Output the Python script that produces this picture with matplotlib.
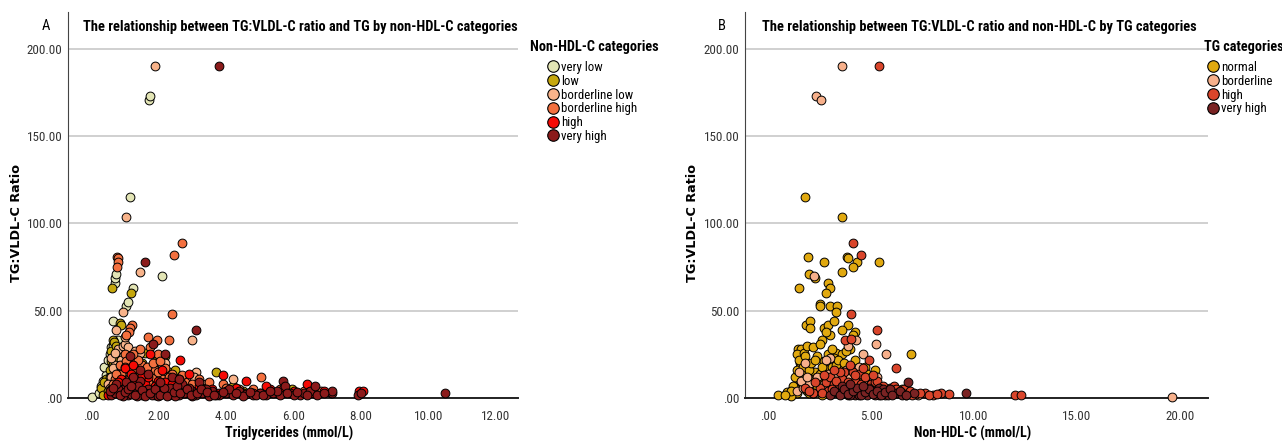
import matplotlib
matplotlib.use("Agg")
import matplotlib.pyplot as plt
import matplotlib.font_manager as fm
from matplotlib.ticker import FuncFormatter, FixedLocator
from matplotlib.lines import Line2D

# ---- panel A: TG vs ratio, coloured by non-HDL-C category ----
a_labels = ["very low", "low", "borderline low", "borderline high", "high", "very high"]
a_colors = ["#e3e5b5", "#c6a80e", "#f8b38a", "#f3703f", "#f50a05", "#8b1b1b"]

a_very_low_x = [0.02, 0.25, 0.4, 0.45, 0.5, 0.55, 0.6, 0.65, 0.7, 0.72, 0.75, 0.8, 0.9, 1.05, 1.1,
                1.15, 1.25, 1.73, 1.75, 2.1, 3.4, 0.35, 0.7, 0.85, 1.0, 1.3, 1.6, 2.0, 2.5, 0.3,
                0.4, 0.5, 0.55, 0.65, 0.8, 0.95, 1.2, 0.45, 0.6, 1.4]
a_very_low_y = [0.5, 3, 5, 13, 9, 20, 29, 44, 66, 69, 71, 24, 28, 53, 55,
                115, 63, 171, 173, 70, 8, 10, 15, 12, 20, 9, 6, 5, 4, 7,
                18, 22, 25, 30, 33, 16, 14, 7, 14, 7]

a_low_x = [0.3, 0.35, 0.45, 0.55, 0.6, 0.62, 0.65, 0.68, 0.7, 0.85, 0.88, 1.2, 1.25, 1.4, 1.6, 1.95,
           2.15, 2.6, 3.7, 5.95, 4.2, 2.2, 0.9, 1.1, 1.5, 0.5, 0.8, 3.0, 2.3, 1.8, 4.5, 6.6,
           0.4, 0.55, 0.65, 0.7, 0.75, 0.95, 1.05, 1.3, 1.45, 1.7, 2.0, 2.5, 2.8, 3.3, 0.6, 0.75]
a_low_y = [6, 2, 11, 16, 21, 63, 33, 32, 26, 43, 42, 60, 18, 14, 26, 22,
           20, 12, 15, 5, 7, 24, 9, 13, 20, 4, 7, 10, 15, 17, 4, 4,
           9, 12, 19, 23, 13, 17, 10, 21, 8, 11, 13, 16, 6, 4, 27, 30]

a_bl_low_x = [1.9, 1.05, 1.45, 0.95, 0.75, 3.0, 0.8, 0.9, 0.95, 1.0, 1.1, 1.3, 1.4, 0.7, 0.6, 0.5, 0.65,
              1.2, 1.5, 1.8, 2.0, 2.5, 2.9, 3.1, 3.5, 4.2, 4.0, 1.6, 2.2, 0.85, 1.15, 0.55, 2.7, 3.3,
              0.6, 0.7, 0.8, 0.9, 1.0, 1.25, 1.35, 1.55, 1.7, 1.9, 2.1, 2.4, 2.6, 3.05, 1.0, 0.85,
              1.45, 2.2]
a_bl_low_y = [190, 104, 72, 49, 39, 33, 28, 22, 30, 31, 29, 27, 21, 19, 12, 8, 17,
              17, 12, 14, 10, 9, 10, 15, 6, 11, 5, 9, 7, 15, 24, 6, 11, 8,
              23, 26, 13, 18, 12, 22, 16, 18, 8, 20, 15, 12, 7, 12, 35, 9,
              26, 20]

a_bl_high_x = [2.7, 2.45, 0.78, 0.8, 0.8, 0.77, 2.4, 1.22, 1.17, 1.12, 1.05, 1.7, 1.95, 2.3, 2.0, 1.75,
               1.0, 1.3, 1.5, 1.1, 0.9, 0.7, 1.6, 1.8, 2.1, 2.4, 2.6, 2.8, 3.0, 3.4, 3.9, 5.05, 5.6,
               6.3, 6.8, 0.6, 1.2, 1.4, 2.2, 2.55, 4.8, 1.9, 0.85, 1.05, 1.35,
               0.65, 0.75, 0.95, 1.0, 1.15, 1.25, 1.4, 1.55, 1.65, 1.7, 1.85, 2.0, 2.15, 2.3, 2.5,
               2.7, 2.9, 3.2, 3.5, 4.0, 4.4, 1.45, 1.25, 2.05]
a_bl_high_y = [89, 82, 81, 80, 78, 75, 48, 42, 40, 38, 36, 35, 33, 33, 25, 29,
               25, 20, 19, 17, 14, 11, 15, 12, 11, 14, 10, 9, 8, 6, 8, 12, 5,
               4, 4, 5, 8, 10, 17, 6, 5, 16, 19, 21, 13,
               8, 14, 9, 18, 12, 16, 22, 14, 18, 9, 20, 15, 8, 12, 9,
               13, 5, 11, 9, 6, 5, 28, 25, 21]

a_high_x = [2.65, 2.9, 3.9, 4.6, 6.4, 6.9, 7.95, 8.05, 1.6, 2.0, 2.3, 2.7, 3.2, 3.6, 4.3, 5.3, 5.2,
            5.7, 1.0, 1.2, 0.5, 0.9, 1.4, 1.8, 2.1, 2.5, 3.0, 3.8, 4.8, 6.0, 1.7, 2.2, 0.7, 1.75,
            0.8, 1.1, 1.3, 1.5, 1.6, 1.9, 2.4, 2.6, 2.8, 3.4, 4.0, 4.5, 5.0, 5.5, 1.25, 2.1, 6.6, 7.1]
a_high_y = [22, 14, 13, 10, 8, 4, 4, 4, 8, 10, 6, 5, 7, 5, 6, 5, 7,
            5, 17, 14, 2, 11, 5, 4, 3, 3, 2, 3, 3, 4, 12, 9, 6, 25,
            9, 6, 10, 13, 4, 7, 8, 11, 4, 4, 4, 3, 3, 3, 19, 16, 3, 3]

a_vhigh_x = [3.8, 1.6, 3.1, 1.85, 2.2, 1.15, 1.45, 1.25, 0.9, 1.0, 1.1, 1.3, 1.5, 1.7, 1.9, 2.0, 2.1,
             2.3, 2.4, 2.5, 2.6, 2.7, 2.8, 3.0, 3.1, 3.2, 3.3, 3.5, 3.6, 3.8, 4.0, 4.2, 4.4, 4.6,
             4.8, 5.0, 5.2, 5.4, 5.6, 5.7, 5.75, 5.9, 6.2, 6.3, 6.5, 6.65, 6.7, 7.15, 7.15, 7.9,
             8.0, 10.5, 0.6, 0.7, 0.8, 1.2, 1.4, 1.6, 1.8, 2.2, 2.9, 3.4, 4.1, 0.75, 1.05, 2.0,
             2.5, 3.0, 3.5, 4.5, 1.35, 0.95, 2.35, 2.75, 3.7, 4.9, 5.5, 6.0,
             0.55, 0.65, 0.85, 1.0, 1.1, 1.2, 1.3, 1.5, 1.6, 1.75, 1.9, 2.05, 2.15, 2.25, 2.45,
             2.55, 2.65, 2.85, 2.95, 3.15, 3.25, 3.45, 3.65, 3.9, 4.3, 4.7, 5.1, 5.3, 5.8, 6.1,
             6.4, 6.9, 1.7, 2.05, 2.6, 1.45]
a_vhigh_y = [190, 78, 39, 31, 25, 24, 10, 12, 3, 6, 1.5, 4, 2, 5, 1.5, 7, 3,
             2, 12, 5, 2, 8, 3, 4, 2, 9, 3, 2, 4, 2, 3, 2, 4, 2.5,
             2, 3, 2, 3, 2, 10, 7, 3, 2, 3, 4, 7, 2, 3, 4, 2,
             3, 3, 1.5, 3, 5, 2.5, 7, 3, 2, 4, 6, 5, 5, 8, 9, 1,
             1, 1, 1, 1, 1, 1, 6, 3, 1.5, 1.5, 4, 1.5,
             4, 6, 2, 3.5, 5, 7, 1.5, 4.5, 1, 3, 5, 2, 5.5, 1, 3.5,
             7, 3, 5, 2, 3, 5, 3.5, 2, 3.5, 3, 3.5, 2, 4, 3, 3.5,
             2, 3, 14, 9, 11, 16]

# ---- panel B: non-HDL-C vs ratio, coloured by TG category ----
b_labels = ["normal", "borderline", "high", "very high"]
b_colors = ["#e1a90f", "#f7b08b", "#d9452b", "#7a2323"]

b_normal_x = [1.8, 3.6, 1.95, 3.85, 3.9, 2.7, 5.4, 4.3, 4.1, 3.6, 2.0, 2.3, 1.5, 2.9, 3.0, 2.8,
              2.5, 2.5, 3.0, 3.35, 3.3, 1.85, 2.05, 2.05, 2.7, 2.9, 3.2, 3.9, 3.0, 2.8, 4.2, 3.6,
              6.95, 1.45, 1.6, 1.4, 1.75, 1.9, 2.2, 2.6, 2.5, 3.3, 3.6, 4.0, 2.4, 2.7, 3.2, 1.55,
              1.6, 1.8, 2.0, 2.3, 2.7, 3.1, 3.5, 5.2, 4.7, 0.5, 1.0, 0.9, 1.3, 1.5, 1.2, 1.7,
              2.1, 2.6, 3.4, 4.5, 5.0, 1.4, 1.9, 2.2, 2.9, 3.8, 4.4, 1.1, 6.5, 2.4, 3.0,
              1.2, 1.3, 1.4, 1.5, 1.6, 1.7, 1.8, 1.9, 2.0, 2.1, 2.2, 2.3, 2.4, 2.5, 2.6, 2.8,
              2.9, 3.0, 3.1, 3.2, 3.3, 3.4, 3.5, 3.7, 3.8, 4.0, 4.1, 4.2, 4.3, 4.5, 4.8, 5.1,
              5.3, 5.6, 6.2, 1.1, 0.8, 2.0, 2.6]
b_normal_y = [115, 104, 81, 81, 80, 78, 78, 78, 75, 72, 71, 69, 63, 66, 63, 60,
              54, 53, 53, 53, 49, 42, 44, 40, 40, 42, 44, 42, 36, 38, 38, 39,
              25, 28, 28, 25, 26, 30, 29, 33, 31, 26, 25, 28, 24, 21, 23, 20,
              19, 14, 12, 15, 17, 18, 19, 16, 18, 1.5, 2.5, 3.5, 4, 8, 6, 10,
              7, 9, 11, 6, 5, 3, 4, 3, 5, 8, 10, 1, 5, 12, 14,
              7, 12, 16, 22, 9, 18, 24, 7, 16, 20, 10, 22, 6, 14, 18, 12,
              25, 8, 28, 13, 19, 22, 10, 20, 27, 13, 36, 22, 16, 12, 14, 8,
              5, 4, 3, 4, 2, 3, 2]

b_border_x = [3.6, 2.35, 2.55, 2.25, 4.25, 5.25, 5.75, 3.0, 4.6, 3.9, 1.8, 1.5, 5.3, 19.6,
              1.4, 2.0, 2.6, 3.2, 4.0, 4.8, 5.6, 2.9, 3.5, 6.0, 4.4, 1.7,
              1.6, 1.9, 2.2, 2.4, 2.7, 3.0, 3.3, 3.4, 3.7, 3.8, 4.2, 4.5, 4.7, 5.0, 5.2, 5.9,
              6.3, 6.7, 7.3, 2.8]
b_border_y = [190, 173, 171, 70, 33, 31, 25, 23, 25, 30, 20, 15, 12, 0.5,
              4, 8, 6, 10, 12, 7, 5, 14, 9, 3, 18, 6,
              10, 12, 3, 12, 8, 5, 13, 4, 7, 16, 9, 4, 11, 8, 4, 6,
              3, 2, 2, 22]

b_high_x = [5.4, 4.1, 4.5, 4.05, 5.3, 3.75, 4.05, 4.9, 6.2, 3.7, 4.1, 4.4, 4.0, 12.0, 12.3,
            2.5, 2.8, 3.0, 3.2, 3.4, 3.6, 3.8, 4.2, 4.6, 4.8, 5.0, 5.5, 5.8, 6.0, 6.4, 6.8,
            7.2, 7.6, 8.0, 8.4, 8.8, 2.2, 3.5, 4.3, 5.2, 6.1, 7.0, 2.9, 3.9, 1.8, 5.7, 6.6,
            2.0, 2.3, 2.6, 2.7, 3.1, 3.3, 3.5, 3.7, 3.9, 4.0, 4.2, 4.4, 4.5, 4.7, 4.9, 5.1,
            5.3, 5.4, 5.6, 5.9, 6.2, 6.5, 6.9, 7.4, 7.8, 8.2, 3.2, 4.6, 5.1]
b_high_y = [190, 89, 82, 48, 39, 33, 34, 22, 17, 15, 15, 14, 19, 1.5, 1.5,
            6, 9, 12, 8, 5, 11, 7, 10, 6, 4, 8, 5, 3, 6, 4, 3,
            2.5, 3, 2, 3, 2.5, 3, 3, 4, 9, 7, 2, 4, 2, 6, 2, 5,
            4, 9, 3, 13, 5, 10, 15, 3, 9, 6, 13, 3, 8, 12, 6, 4,
            10, 2, 7, 4, 5, 3, 4, 3, 2, 2.5, 16, 17, 13]

b_vhigh_x = [9.6, 3.4, 3.8, 4.2, 4.6, 5.0, 5.4, 5.8, 6.2, 6.8, 3.0, 4.0, 4.8, 5.6, 3.6, 4.4,
             7.1, 6.5, 5.2,
             3.2, 3.5, 3.7, 3.9, 4.1, 4.3, 4.5, 4.7, 4.9, 5.1, 5.3, 5.5, 5.7, 5.9, 6.0, 6.4,
             6.7, 4.0, 4.6]
b_vhigh_y = [3, 3, 5, 2, 4, 3, 6, 2, 3, 9, 1.5, 1.5, 2, 5, 7, 2,
             3, 2, 1.5,
             4, 2, 5, 2.5, 4, 6, 1.5, 3.5, 5, 2.5, 4, 1.5, 3.5, 5, 1.5, 4,
             2, 8, 7]

a_series = [(a_very_low_x, a_very_low_y), (a_low_x, a_low_y), (a_bl_low_x, a_bl_low_y),
            (a_bl_high_x, a_bl_high_y), (a_high_x, a_high_y), (a_vhigh_x, a_vhigh_y)]
b_series = [(b_normal_x, b_normal_y), (b_border_x, b_border_y), (b_high_x, b_high_y),
            (b_vhigh_x, b_vhigh_y)]

# narrowest face available, sizes get fitted to the reference widths below
installed = {f.name for f in fm.fontManager.ttflist}
NARROW = dict(family="Roboto")
for name in ["Liberation Sans Narrow", "Roboto Condensed", "Open Sans Condensed", "DejaVu Sans Condensed"]:
    if name in installed:
        NARROW = dict(family=name)
        break
else:
    cond_file = fm.findfont(fm.FontProperties(family="DejaVu Sans", stretch="condensed"))
    if "Condensed" in cond_file:
        NARROW = dict(family="DejaVu Sans", stretch="condensed")
plt.rcParams["font.family"] = NARROW["family"]
if "stretch" in NARROW:
    plt.rcParams["font.stretch"] = NARROW["stretch"]

W, H = 1282.0, 441.0
fig = plt.figure(figsize=(W / 100, H / 100), dpi=100)
renderer = fig.canvas.get_renderer()


def fit_size(txt, target_px, weight="normal", family=None, base=10.0):
    kw = dict(NARROW) if family is None else dict(family=family)
    t = fig.text(0, 0, txt, fontsize=base, fontweight=weight, **kw)
    w = t.get_window_extent(renderer).width
    t.remove()
    return base * target_px / w


def dotfmt(v, pos):
    s = f"{v:.2f}"
    return s[1:] if s.startswith("0.") else s


TICK_FS = fit_size("200.00", 35)
TITLE_FS = fit_size("The relationship between TG:VLDL-C ratio and TG by non-HDL-C categories", 436, "bold")
XLAB_FS = fit_size("Triglycerides (mmol/L)", 128, "bold")
LEGT_FS = fit_size("Non-HDL-C categories", 128, "bold")
LEG_FS = fit_size("borderline high", 76)
YLAB_FS = fit_size("TG:VLDL-C Ratio", 118, "bold", family="DejaVu Sans")


def panel(left, right, xlim, xticks, series, labels, colors, letter, letter_x,
          title, title_x, xlabel, ylabel_x, leg_x, leg_marker_x, leg_title):
    ax = fig.add_axes([left / W, 1 - 398 / H, (right - left) / W, (398 - 12) / H])
    for (xs, ys), lab, c in zip(series, labels, colors):
        ax.scatter(xs, ys, s=40, c=c, edgecolors="black", linewidths=0.7,
                   label=lab, clip_on=False, zorder=3)
    ax.set_xlim(*xlim)
    ax.set_ylim(0, 221.2)
    ax.xaxis.set_major_locator(FixedLocator(xticks))
    ax.yaxis.set_major_locator(FixedLocator([0, 50, 100, 150, 200]))
    ax.xaxis.set_major_formatter(FuncFormatter(dotfmt))
    ax.yaxis.set_major_formatter(FuncFormatter(dotfmt))
    ax.tick_params(length=0, labelsize=TICK_FS, colors="#333333", pad=4)
    ax.tick_params(axis="x", pad=9)
    ax.grid(axis="y", color="#c8c8c8", linewidth=1.2)
    ax.set_axisbelow(True)
    for sp in ["top", "right"]:
        ax.spines[sp].set_visible(False)
    ax.spines["left"].set_color("#444444")
    ax.spines["bottom"].set_color("#222222")
    ax.spines["bottom"].set_linewidth(1.4)

    fig.text(letter_x / W, 1 - 26 / H, letter, fontsize=10.5, va="center")
    fig.text(title_x / W, 1 - 27 / H, title, fontsize=TITLE_FS, fontweight="bold", va="center")
    fig.text((left + right) / 2 / W - 0.003, 1 - 433 / H, xlabel, fontsize=XLAB_FS,
             fontweight="bold", ha="center", va="center")
    fig.text(ylabel_x / W, 1 - 223 / H, "TG:VLDL-C Ratio", fontsize=YLAB_FS, fontweight="bold",
             rotation=90, ha="center", va="center", family="DejaVu Sans")

    # legend: title as its own text so the gap above the entries matches
    fig.text(leg_x / W, 1 - 47 / H, leg_title, fontsize=LEGT_FS, fontweight="bold", va="center")
    handles = [Line2D([], [], marker="o", linestyle="", markersize=8.3,
                      markerfacecolor=c, markeredgecolor="black", markeredgewidth=0.8)
               for c in colors]
    anchor = leg_marker_x - 0.5 * LEG_FS * 100 / 72
    fig.legend(handles, labels, loc="upper left", bbox_to_anchor=(anchor / W, 1 - 61 / H),
               frameon=False, fontsize=LEG_FS, handletextpad=0.1, labelspacing=0.06,
               borderaxespad=0, borderpad=0, handlelength=1.0)
    return ax


panel(68, 518, (-0.68, 12.65), [0, 2, 4, 6, 8, 10, 12], a_series, a_labels, a_colors,
      "A", 42, "The relationship between TG:VLDL-C ratio and TG by non-HDL-C categories", 83,
      "Triglycerides (mmol/L)", 17, 530, 553, "Non-HDL-C categories")
panel(745, 1208, (-1.12, 21.36), [0, 5, 10, 15, 20], b_series, b_labels, b_colors,
      "B", 718, "The relationship between TG:VLDL-C ratio and non-HDL-C by TG categories", 762,
      "Non-HDL-C (mmol/L)", 693, 1204, 1213, "TG categories")

fig.savefig("out.png", dpi=100)
